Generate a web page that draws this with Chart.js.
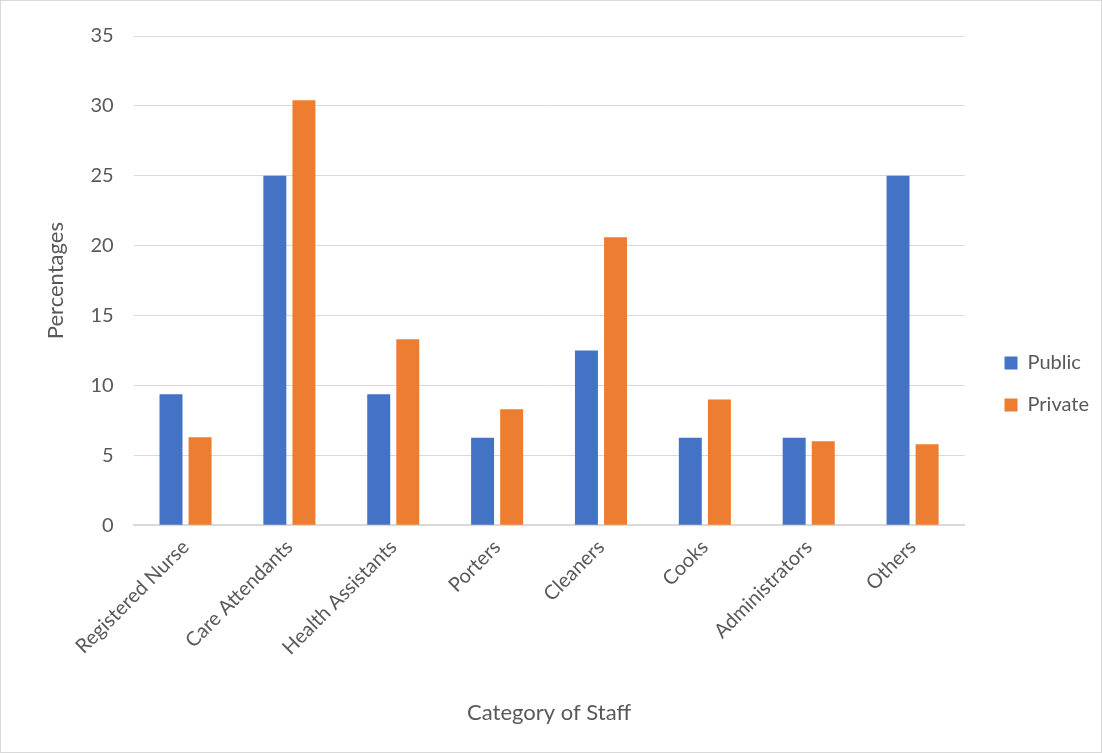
<!DOCTYPE html>
<html>
<head>
<meta charset="utf-8">
<script src="https://cdn.jsdelivr.net/npm/chart.js@4.4.1/dist/chart.umd.min.js"></script>
<style>
  html, body { margin: 0; padding: 0; background: #ffffff; }
  #frame {
    width: 1102px; height: 753px; box-sizing: border-box;
    border: 1px solid #d9d9d9; background: #ffffff;
  }
  canvas { display: block; }
</style>
</head>
<body>
<div id="frame"><canvas id="staffChart" width="1100" height="751"></canvas></div>
<script>
// Staff composition by category, public vs private facilities (percent)
const categories = ['Registered Nurse', 'Care Attendants', 'Health Assistants', 'Porters',
                    'Cleaners', 'Cooks', 'Administrators', 'Others'];
const publicPct  = [9.375, 25, 9.375, 6.25, 12.5, 6.25, 6.25, 25];
const privatePct = [6.3, 30.4, 13.3, 8.3, 20.6, 9.0, 6.0, 5.8];
const yTicks = [0, 5, 10, 15, 20, 25, 30, 35];

const fontFamily = 'Lato, "Liberation Sans", sans-serif';
const textColor = '#595959';
const gridColor = '#d9d9d9';

// Leaves a wider gap between the plot area and the legend on the right.
const legendGap = {
  id: 'legendGap',
  afterLayout(chart, args, opts) {
    const lg = chart.legend;
    if (!lg) return;
    lg.left += opts.shiftX;
    lg.right += opts.shiftX;
    lg.top += opts.shiftY;
    lg.bottom += opts.shiftY;
  }
};

new Chart(document.getElementById('staffChart'), {
  type: 'bar',
  data: {
    labels: categories,
    datasets: [
      { label: 'Public',  data: publicPct,  backgroundColor: '#4472C4',
        categoryPercentage: 0.56, barPercentage: 0.79 },
      { label: 'Private', data: privatePct, backgroundColor: '#ED7D31',
        categoryPercentage: 0.56, barPercentage: 0.79 }
    ]
  },
  plugins: [legendGap],
  options: {
    responsive: false,
    animation: false,
    layout: { padding: { left: 42, right: 20, top: 35, bottom: 26 } },
    plugins: {
      tooltip: { enabled: false },
      legendGap: { shiftX: 18, shiftY: 3 },
      legend: {
        position: 'right',
        labels: {
          boxWidth: 13, boxHeight: 13, padding: 22,
          color: textColor,
          font: { family: fontFamily, size: 20 }
        }
      }
    },
    scales: {
      x: {
        // rotated labels may hang past the plot's left edge; there is room for them
        afterFit: (scale) => { scale.paddingLeft = 0; scale.paddingRight = 0; },
        grid: { display: false, drawTicks: false },
        border: { display: true, color: gridColor, width: 2 },
        ticks: {
          color: textColor, padding: 10,
          maxRotation: 45, minRotation: 45,
          font: { family: fontFamily, size: 20 }
        },
        title: {
          display: true, text: 'Category of Staff', color: textColor,
          padding: { top: 30, bottom: 0 },
          font: { family: fontFamily, size: 22 }
        }
      },
      y: {
        min: 0, max: 35,
        afterBuildTicks: (axis) => { axis.ticks = yTicks.map(v => ({ value: v })); },
        grid: { color: gridColor, lineWidth: 1, drawTicks: false },
        border: { display: false },
        ticks: {
          color: textColor, padding: 20,
          font: { family: fontFamily, size: 20 }
        },
        title: {
          display: true, text: 'Percentages', color: textColor,
          padding: { top: 0, bottom: 1 },
          font: { family: fontFamily, size: 22 }
        }
      }
    }
  }
});
</script>
</body>
</html>
